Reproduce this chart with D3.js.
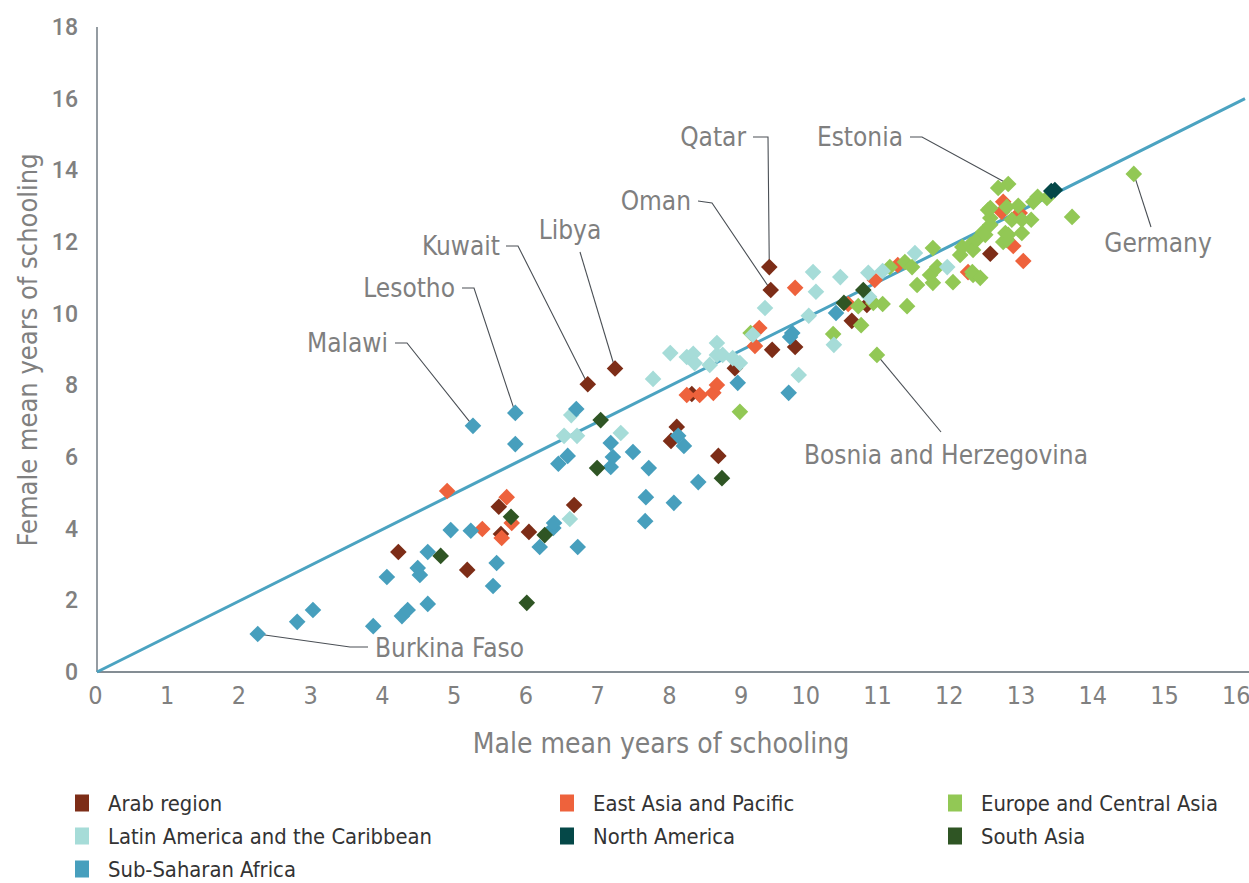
<!DOCTYPE html>
<html>
<head>
<meta charset="utf-8">
<script src="https://cdn.jsdelivr.net/npm/d3@7"></script>
<style>
  html, body { margin: 0; padding: 0; background: #fff; }
  svg { display: block; }
  .cond { font-family: "Liberation Sans Narrow", "DejaVu Sans Condensed", "Roboto", sans-serif; font-stretch: condensed; }
</style>
</head>
<body>
<svg id="chart" width="1249" height="883"></svg>
<script>
// ---------------- DATA (male, female mean years of schooling) ----------------
const arabRegion = [
  [4.20,3.35],[5.16,2.85],[5.60,4.61],[5.63,3.85],[6.02,3.91],[6.65,4.66],
  [6.84,8.03],[7.22,8.47],[8.00,6.45],[8.08,6.84],[8.29,7.76],[8.66,6.03],
  [8.89,8.48],[9.37,11.30],[9.39,10.66],[9.41,8.99],[9.73,9.07],
  [10.52,9.80],[10.73,10.24],[12.45,11.67]
];
const eastAsiaPacific = [
  [4.88,5.05],[5.37,3.99],[5.64,3.74],[5.71,4.88],[5.78,4.16],
  [8.22,7.73],[8.40,7.73],[8.59,7.79],[8.64,8.01],
  [9.17,9.10],[9.23,9.60],[9.73,10.72],[10.47,10.27],[10.84,10.94],
  [11.16,11.36],[12.14,11.16],[12.61,12.84],[12.63,13.12],[12.86,12.81],
  [12.77,11.89],[12.91,11.47]
];
const europeCentralAsia = [
  [8.96,7.26],[9.11,9.46],[10.26,9.43],[10.61,10.21],[10.65,9.68],[10.82,10.30],
  [10.87,8.85],[10.95,10.27],[11.05,11.30],[11.26,11.44],[11.29,10.21],[11.36,11.30],
  [11.43,10.80],[11.61,11.08],[11.65,11.83],[11.65,10.86],[11.71,11.30],[11.93,10.88],
  [12.03,11.64],[12.06,11.86],[12.17,11.92],[12.21,11.78],[12.26,12.06],[12.35,12.28],
  [12.38,12.20],[12.20,11.16],[12.21,11.08],[12.31,11.00],[12.42,12.89],[12.45,12.67],
  [12.45,12.48],[12.45,12.95],[12.63,12.00],[12.66,12.25],[12.68,12.06],[12.70,12.20],
  [12.89,12.25],[12.56,13.51],[12.70,13.62],[12.68,12.98],[12.84,13.01],[12.75,12.62],
  [12.89,12.62],[13.02,12.62],[13.05,13.12],[13.11,13.26],[13.24,13.23],[13.59,12.70],
  [14.45,13.90]
];
const latinAmericaCaribbean = [
  [6.51,6.59],[6.59,4.27],[6.61,7.17],[6.69,6.59],[7.30,6.67],[7.75,8.18],
  [7.99,8.90],[8.22,8.79],[8.31,8.88],[8.33,8.62],[8.54,8.57],[8.64,9.18],
  [8.64,8.85],[8.72,8.85],[8.86,8.76],[8.96,8.62],[9.14,9.41],[9.31,10.16],
  [9.78,8.29],[9.92,9.94],[9.98,11.16],[10.02,10.61],[10.27,9.13],[10.36,11.02],
  [10.75,11.14],[10.76,10.47],[10.95,11.19],[11.40,11.69],[11.85,11.30]
];
const northAmerica = [[13.30,13.42],[13.35,13.45]];
const southAsia = [
  [4.79,3.24],[5.77,4.33],[5.99,1.93],[6.24,3.82],[6.97,5.69],[7.02,7.03],
  [8.71,5.41],[10.41,10.30],[10.68,10.66]
];
const subSaharanAfrica = [
  [2.24,1.06],[2.79,1.40],[3.01,1.73],[3.85,1.28],[4.04,2.65],[4.25,1.56],
  [4.33,1.73],[4.47,2.90],[4.50,2.71],[4.61,3.35],[4.61,1.90],[4.93,3.96],
  [5.21,3.94],[5.24,6.87],[5.52,2.40],[5.57,3.04],[5.83,7.23],[5.83,6.36],
  [6.17,3.49],[6.36,4.02],[6.37,4.16],[6.43,5.81],[6.56,6.03],[6.68,7.34],
  [6.70,3.49],[7.16,6.39],[7.19,6.00],[7.16,5.72],[7.47,6.14],[7.69,5.69],
  [7.65,4.88],[7.64,4.21],[8.04,4.72],[8.10,6.59],[8.18,6.31],[8.38,5.30],
  [8.93,8.07],[9.64,7.79],[9.69,9.46],[9.66,9.35],[10.30,10.02]
];

const regionNames = ["Arab region","East Asia and Pacific","Europe and Central Asia",
  "Latin America and the Caribbean","North America","South Asia","Sub-Saharan Africa"];
const regionColors = ["#7D2D17","#EE623C","#92C855","#A6DCD8","#054848","#2F5524","#479FBD"];
const regionData = [arabRegion, eastAsiaPacific, europeCentralAsia,
  latinAmericaCaribbean, northAmerica, southAsia, subSaharanAfrica];
// drawing order (bottom -> top)
const drawOrder = [0,1,2,3,6,5,4];

const xTicks = d3.range(0,17,1);
const yTicks = d3.range(0,19,2);
const parityLine = [[0,0],[16,16]];

// annotated countries: name, data point
const annotNames  = ["Malawi","Lesotho","Kuwait","Libya","Oman","Qatar","Estonia","Germany","Bosnia and Herzegovina","Burkina Faso"];
const annotPoints = [[5.24,6.87],[5.83,7.23],[6.84,8.03],[7.22,8.47],[9.39,10.66],[9.37,11.30],[12.70,13.62],[14.45,13.90],[10.87,8.85],[2.24,1.06]];

// ---------------- LAYOUT ----------------
const svg = d3.select("#chart");
const x = d3.scaleLinear().domain([0,16]).range([97,1245]);
const y = d3.scaleLinear().domain([0,18]).range([672,27]);
const grey = "#808080";
const axisCol = "#5B6770";

// axes lines
svg.append("line").attr("x1",97).attr("x2",97).attr("y1",y(18)).attr("y2",y(0))
  .attr("stroke",axisCol).attr("stroke-width",1.3);
svg.append("line").attr("x1",97).attr("x2",1249).attr("y1",y(0)).attr("y2",y(0))
  .attr("stroke",axisCol).attr("stroke-width",1.3);

// y ticks
const yAxis = d3.axisLeft(y).tickValues(yTicks).tickSize(0).tickPadding(19);
const gy = svg.append("g").attr("transform","translate(97,0)").call(yAxis);
gy.select(".domain").remove();
gy.selectAll("text").attr("fill",grey).attr("font-family","Roboto, sans-serif")
  .attr("font-weight","500").attr("font-size",23);

// x ticks
const xAxis = d3.axisBottom(x).tickValues(xTicks).tickSize(0).tickPadding(14);
const gx = svg.append("g").attr("transform",`translate(0,${y(0)})`).call(xAxis);
gx.select(".domain").remove();
gx.selectAll("text").attr("class","cond").attr("fill",grey).attr("font-size",25)
  .attr("text-anchor","end").attr("dx", 5);

// axis titles
svg.append("text").attr("class","cond").attr("x",661).attr("y",753)
  .attr("text-anchor","middle").attr("fill",grey).attr("font-size",28)
  .text("Male mean years of schooling");
svg.append("text").attr("class","cond")
  .attr("transform","translate(37,350) rotate(-90)")
  .attr("text-anchor","middle").attr("fill",grey).attr("font-size",27)
  .text("Female mean years of schooling");

// parity line
svg.append("line")
  .attr("x1",x(parityLine[0][0])).attr("y1",y(parityLine[0][1]))
  .attr("x2",x(parityLine[1][0])).attr("y2",y(parityLine[1][1]))
  .attr("stroke","#4BA3C1").attr("stroke-width",3);

// annotation leader lines (label pixel anchors)
const annotLayout = [
  {tx:388, ty:352, anchor:"end",   path:[[395,343],[407,343]]},
  {tx:455, ty:297, anchor:"end",   path:[[462,288],[474,288]]},
  {tx:500, ty:255, anchor:"end",   path:[[506,246],[518,246]]},
  {tx:570, ty:239, anchor:"middle",path:[[580,252]]},
  {tx:691, ty:210, anchor:"end",   path:[[698,201],[712,203]]},
  {tx:746, ty:146, anchor:"end",   path:[[753,137],[768,137]]},
  {tx:903, ty:146, anchor:"end",   path:[[910,137],[922,137]]},
  {tx:1158,ty:252, anchor:"middle",path:[[1151,227]]},
  {tx:946, ty:464, anchor:"middle",path:[[941,432]]},
  {tx:375, ty:657, anchor:"start", path:[[368,647],[350,647]]}
];
const diamond = s => `M0,${-s}L${s},0L0,${s}L${-s},0Z`;

annotNames.forEach((n,i) => {
  const L = annotLayout[i];
  const pts = L.path.concat([[x(annotPoints[i][0]), y(annotPoints[i][1])]]);
  svg.append("path").attr("d", d3.line()(pts)).attr("fill","none")
    .attr("stroke","#4A4F55").attr("stroke-width",1.1);
});

// points
drawOrder.forEach(k => {
  svg.append("g").selectAll("path").data(regionData[k]).join("path")
    .attr("d", diamond(8.3))
    .attr("transform", d => `translate(${x(d[0])},${y(d[1])})`)
    .attr("fill", regionColors[k]);
});

// annotation labels
annotNames.forEach((n,i) => {
  const L = annotLayout[i];
  svg.append("text").attr("class","cond").attr("x",L.tx).attr("y",L.ty)
    .attr("text-anchor",L.anchor).attr("fill","#7F7F7F").attr("font-size",26)
    .text(n);
});

// legend
const legCols = [75, 560, 948];
const legRows = [803, 836, 869];
regionNames.forEach((n,i) => {
  const cx = legCols[i % 3], cy = legRows[Math.floor(i/3)];
  svg.append("rect").attr("x",cx).attr("y",cy-8.5).attr("width",14).attr("height",17)
    .attr("fill",regionColors[i]);
  svg.append("text").attr("class","cond").attr("x",cx+33).attr("y",cy+8)
    .attr("fill","#333").attr("font-size",21.8).text(n);
});
</script>
</body>
</html>
